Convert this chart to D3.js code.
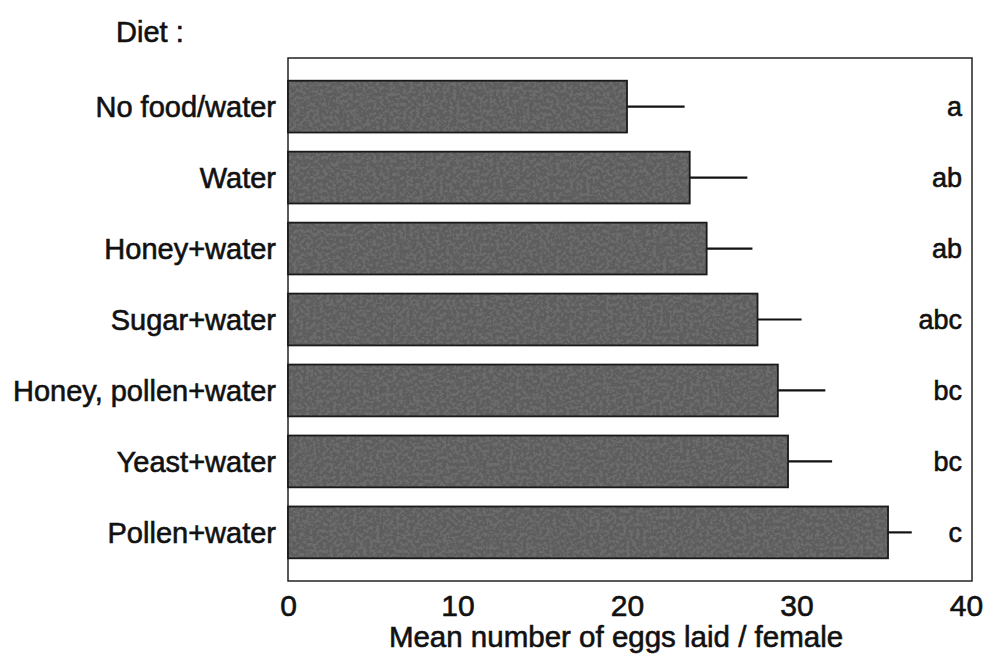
<!DOCTYPE html>
<html>
<head>
<meta charset="utf-8">
<script src="https://cdn.jsdelivr.net/npm/d3@7"></script>
<style>
  html, body { margin: 0; padding: 0; background: #fff; }
  svg { display: block; font-family: "Liberation Sans", Arial, Helvetica, sans-serif; }
  .lbl { fill: #111; stroke: #111; stroke-width: 0.6px; }
</style>
</head>
<body>
<svg id="chart" width="992" height="659"></svg>
<script>
// Diet treatments, mean eggs per female, standard error and significance groups
const diets = ["No food/water", "Water", "Honey+water", "Sugar+water",
               "Honey, pollen+water", "Yeast+water", "Pollen+water"];
const meanEggs = [20.0, 23.7, 24.7, 27.7, 28.9, 29.5, 35.4];
const stdErr   = [3.4, 3.4, 2.7, 2.6, 2.8, 2.6, 1.4];
const groups   = ["a", "ab", "ab", "abc", "bc", "bc", "c"];
const xTicks   = [0, 10, 20, 30, 40];

const rows = diets.map((d, i) => ({ diet: d, mean: meanEggs[i], se: stdErr[i], grp: groups[i] }));

const svg = d3.select("#chart");
const frame = { left: 288, right: 972, top: 58, bottom: 581 };

const x = d3.scaleLinear().domain([0, 40]).range([288, 966]);
const y = d3.scaleBand().domain(diets)
  .range([frame.top, frame.bottom])
  .paddingInner(0.27).paddingOuter(0.32);

// grainy fill for the bars
const defs = svg.append("defs");
const f = defs.append("filter").attr("id", "grain")
  .attr("x", 0).attr("y", 0).attr("width", "100%").attr("height", "100%");
f.append("feTurbulence").attr("type", "fractalNoise").attr("baseFrequency", 0.3)
  .attr("numOctaves", 3).attr("seed", 11).attr("result", "noise");
f.append("feColorMatrix").attr("in", "noise").attr("type", "matrix")
  .attr("values", "0 0 0 0 0.11  0 0 0 0 0.11  0 0 0 0 0.11  7 0 0 0 -2.75")
  .attr("result", "dots");
f.append("feComposite").attr("in", "dots").attr("in2", "SourceGraphic").attr("operator", "atop");

// plot frame
svg.append("rect")
  .attr("x", frame.left).attr("y", frame.top)
  .attr("width", frame.right - frame.left).attr("height", frame.bottom - frame.top)
  .attr("fill", "none").attr("stroke", "#222").attr("stroke-width", 1.5);

// error bars (upper side only)
svg.append("g").selectAll("line").data(rows).join("line")
  .attr("x1", d => x(d.mean)).attr("x2", d => x(d.mean + d.se))
  .attr("y1", d => y(d.diet) + y.bandwidth() / 2)
  .attr("y2", d => y(d.diet) + y.bandwidth() / 2)
  .attr("stroke", "#111").attr("stroke-width", 2.2);

// bars
svg.append("g").selectAll("rect").data(rows).join("rect")
  .attr("x", x(0)).attr("y", d => y(d.diet))
  .attr("width", d => x(d.mean) - x(0)).attr("height", y.bandwidth())
  .attr("fill", "#6c6c6c").attr("filter", "url(#grain)");
svg.append("g").selectAll("rect").data(rows).join("rect")
  .attr("x", x(0)).attr("y", d => y(d.diet))
  .attr("width", d => x(d.mean) - x(0)).attr("height", y.bandwidth())
  .attr("fill", "none").attr("stroke", "#1a1a1a").attr("stroke-width", 1.8);

// category labels
svg.append("g").selectAll("text").data(rows).join("text")
  .attr("class", "lbl")
  .attr("x", 276).attr("y", d => y(d.diet) + y.bandwidth() / 2)
  .attr("dy", "0.36em").attr("text-anchor", "end")
  .attr("font-size", 29)
  .text(d => d.diet);

// significance letters
svg.append("g").selectAll("text").data(rows).join("text")
  .attr("class", "lbl")
  .attr("x", 962).attr("y", d => y(d.diet) + y.bandwidth() / 2)
  .attr("dy", "0.36em").attr("text-anchor", "end")
  .attr("font-size", 27)
  .text(d => d.grp);

// x axis
const xAxis = svg.append("g")
  .attr("transform", `translate(0,${frame.bottom})`)
  .call(d3.axisBottom(x).tickValues(xTicks).tickSize(0).tickPadding(14).tickFormat(d3.format("d")));
xAxis.select(".domain").remove();
xAxis.selectAll("text").attr("class", "lbl").attr("font-size", 30)
  .attr("font-family", "Liberation Sans, Arial, sans-serif");

svg.append("text")
  .attr("class", "lbl")
  .attr("x", (x(0) + x(40)) / 2 - 11).attr("y", 647)
  .attr("text-anchor", "middle").attr("font-size", 29.5)
  .text("Mean number of eggs laid / female");

svg.append("text")
  .attr("class", "lbl")
  .attr("x", 116).attr("y", 42)
  .attr("font-size", 29)
  .text("Diet :");
</script>
</body>
</html>
